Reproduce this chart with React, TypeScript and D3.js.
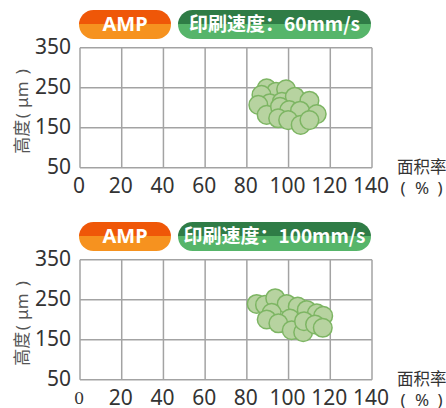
import React from "react";
import * as d3 from "d3";

const xTicks = [0, 20, 40, 60, 80, 100, 120, 140];
const yTicks = [50, 150, 250, 350];
const brandLabel = "AMP";
const speedLabels = ["印刷速度：60mm/s", "印刷速度：100mm/s"];
const yTitleParts = ["高度", "(", "μm", ")"];
const xTitle1 = "面积率";
const xTitle2Parts = ["(", "%", ")"];

const areaTop = [89.5, 94, 98.8, 87, 91, 96.8, 103, 110, 85.5, 89.5, 95.9, 100.3, 105.5, 113.5, 95, 99.8, 105.8, 110];
const heightTop = [248.5, 240, 246, 232, 211, 215, 227.5, 217.5, 207, 182, 202.5, 194, 192.5, 184, 173.5, 169, 157, 169];

const areaBottom = [84.7, 88.7, 93.6, 99.1, 104.4, 108.7, 113.5, 116.6, 91.9, 100.7, 89.5, 95.1, 101.5, 107, 107.4, 112.7, 116.4];
const heightBottom = [239.4, 237, 253.8, 239.4, 232.6, 224.4, 216, 209.5, 217.3, 203, 200.6, 191, 173.6, 168.6, 196.3, 188, 179.7];

const W = 446;
const H = 408;
const gridColor = "#a3a3a3";
const fillColor = "#b7d3a0";
const strokeColor = "#7db563";
const tickFont = "'Noto Sans', 'Open Sans', sans-serif";
const cjkFont = "'Noto Sans CJK SC', 'Noto Sans', sans-serif";

function Panel({ offset, speed, xs, ys, serifZero }: { offset: number; speed: string; xs: number[]; ys: number[]; serifZero: boolean }) {
  const x = d3.scaleLinear().domain([0, 140]).range([80, 372]);
  const y = d3.scaleLinear().domain([50, 350]).range([167.7 + offset, 47.7 + offset]);
  const pillTop = 10 + offset;
  const pillH = 29;
  const gradAmp = `amp${offset}`;
  const gradSpd = `spd${offset}`;
  const midY = (y(350) + y(50)) / 2;
  const yTitlePos = [-29, -8, 13, 36];
  const xTitlePos = [403, 422, 440];
  return (
    <g>
      <defs>
        <linearGradient id={gradAmp} x1="0" y1="0" x2="0" y2="1">
          <stop offset="0" stopColor="#ef5708" />
          <stop offset="0.5" stopColor="#ef5708" />
          <stop offset="0.5" stopColor="#f6921f" />
          <stop offset="1" stopColor="#f6921f" />
        </linearGradient>
        <linearGradient id={gradSpd} x1="0" y1="0" x2="0" y2="1">
          <stop offset="0" stopColor="#2f7c46" />
          <stop offset="0.5" stopColor="#2f7c46" />
          <stop offset="0.5" stopColor="#56b56a" />
          <stop offset="1" stopColor="#56b56a" />
        </linearGradient>
      </defs>
      <rect x={79} y={pillTop} width={92} height={pillH} rx={14.5} fill={`url(#${gradAmp})`} />
      <text x={125} y={pillTop + pillH / 2 + 1} textAnchor="middle" dominantBaseline="middle" fill="#fff" fontWeight="bold" fontSize={20} fontFamily={tickFont}>{brandLabel}</text>
      <rect x={178} y={pillTop} width={193} height={pillH} rx={14.5} fill={`url(#${gradSpd})`} />
      <text x={274.5} y={pillTop + pillH / 2 + 1} textAnchor="middle" dominantBaseline="middle" fill="#fff" fontWeight="bold" fontSize={19} fontFamily={cjkFont}>{speed}</text>

      {xTicks.map((t) => (
        <line key={"gx" + t} x1={x(t)} x2={x(t)} y1={y(350)} y2={y(50)} stroke={gridColor} strokeWidth={1.5} />
      ))}
      {yTicks.map((t) => (
        <line key={"gy" + t} x1={x(0)} x2={x(140)} y1={y(t)} y2={y(t)} stroke={gridColor} strokeWidth={1.5} />
      ))}

      {xs.map((v, i) => (
        <circle key={"c" + i} cx={x(v)} cy={y(ys[i])} r={9.3} fill={fillColor} stroke={strokeColor} strokeWidth={1.5} />
      ))}

      {yTicks.map((t) => (
        <text key={"ly" + t} x={71} y={y(t) + 1} textAnchor="end" dominantBaseline="middle" fontSize={21} fill="#333" fontFamily={tickFont}>{t}</text>
      ))}
      {xTicks.map((t, i) => (
        serifZero && i === 0 ? (
          <text key={"lx" + t} x={x(t) - 1} y={y(50) + 24} textAnchor="middle" fontSize={16} fill="#333" fontFamily="'DejaVu Serif', serif">{t}</text>
        ) : (
          <text key={"lx" + t} x={x(t) - 1} y={y(50) + 25} textAnchor="middle" fontSize={21} fill="#333" fontFamily={tickFont}>{t}</text>
        )
      ))}

      <g transform={`translate(28, ${midY}) rotate(-90)`}>
        {yTitleParts.map((p, i) => (
          <text key={"yt" + i} x={yTitlePos[i]} y={0} textAnchor="middle" fontSize={17} fill="#555" fontFamily={i === 0 ? cjkFont : tickFont}>{p}</text>
        ))}
      </g>
      <text x={397} y={y(50) + 5} fontSize={16.5} fill="#333" fontFamily={cjkFont}>{xTitle1}</text>
      {xTitle2Parts.map((p, i) => (
        <text key={"xt" + i} x={xTitlePos[i]} y={y(50) + 26} textAnchor="middle" fontSize={17} fill="#333" fontFamily={tickFont}>{p}</text>
      ))}
    </g>
  );
}

export default function App() {
  return (
    <svg width={W} height={H} style={{ position: "absolute", left: 0, top: 0, background: "#fff" }}>
      <rect width={W} height={H} fill="#fff" />
      <Panel offset={0} speed={speedLabels[0]} xs={areaTop} ys={heightTop} serifZero={false} />
      <Panel offset={212} speed={speedLabels[1]} xs={areaBottom} ys={heightBottom} serifZero={true} />
    </svg>
  );
}
